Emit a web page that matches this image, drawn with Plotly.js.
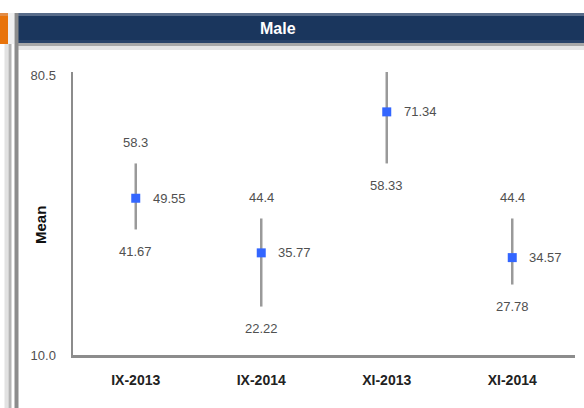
<!DOCTYPE html>
<html>
<head>
<meta charset="utf-8">
<script src="https://cdn.plot.ly/plotly-3.0.1.min.js"></script>
<style>
  html, body { margin: 0; padding: 0; background: #ffffff; }
  #chart { width: 584px; height: 408px; }
</style>
</head>
<body>
<div id="chart"></div>
<script>
// ---- data ----
const categories = ["IX-2013", "IX-2014", "XI-2013", "XI-2014"];
const means = [49.55, 35.77, 71.34, 34.57];
const upperBounds = [58.33, 44.44, 83.33, 44.44];
const lowerBounds = [41.67, 22.22, 58.33, 27.78];
const yTickValues = [10.0, 80.5];
const yRange = [10.0, 81.4];
const panelTitle = "Male";
const yTitle = "Mean";

// ---- layout geometry (pixels) ----
const W = 584, H = 408;
const M = { l: 73, r: 9, t: 72, b: 53 };
const PW = W - M.l - M.r, PH = H - M.t - M.b;
const px = v => (v - M.l) / PW;           // pixel x -> paper x
const py = v => (H - M.b - v) / PH;       // pixel y -> paper y

function rect(x0, y0, x1, y1, color) {
  return { type: "rect", xref: "paper", yref: "paper", layer: "above",
    x0: px(x0), x1: px(x1), y0: py(y1), y1: py(y0),
    fillcolor: color, line: { width: 0 } };
}

const shapes = [
  // header band
  rect(18, 13, 584, 43, "rgb(26,54,93)"),
  rect(18, 13, 584, 16, "rgb(88,108,138)"),
  rect(18, 40, 584, 43, "rgb(40,66,104)"),
  rect(18, 43, 584, 46, "rgb(168,168,168)"),
  rect(18, 46, 584, 50, "rgb(230,230,230)"),
  // orange tab
  rect(0, 13, 8, 44, "rgb(232,115,10)"),
  rect(0, 13, 8, 16, "rgb(226,140,70)"),
  // left frame strips
  rect(8, 13, 14, 44, "rgb(240,240,240)"),
  rect(4.5, 44, 8.5, 408, "rgb(226,226,226)"),
  rect(8.5, 44, 11.5, 408, "rgb(180,180,180)"),
  rect(14.5, 13, 18.5, 408, "rgb(140,140,140)")
];

const valueFont = { family: "Liberation Sans, Arial, sans-serif", size: 13, color: "#505050" };
const annotations = [];

// panel title and y-axis title
annotations.push({ xref: "paper", yref: "paper", x: px(278), y: py(28),
  text: panelTitle, showarrow: false, xanchor: "center", yanchor: "middle",
  font: { family: "Liberation Sans, Arial, sans-serif", size: 16, color: "#ffffff", weight: "bold" } });
annotations.push({ xref: "paper", yref: "paper", x: px(40), y: py(225),
  text: yTitle, showarrow: false, textangle: -90, xanchor: "center", yanchor: "middle",
  font: { family: "Liberation Sans, Arial, sans-serif", size: 15, color: "#111111", weight: "bold" } });

categories.forEach((c, i) => {
  // mean label to the right of the marker
  annotations.push({ xref: "x", yref: "y", x: c, y: means[i], text: means[i].toFixed(2),
    showarrow: false, xanchor: "left", yanchor: "middle", xshift: 15, font: valueFont });
  // upper bound label (only if inside the axis range)
  if (upperBounds[i] <= yRange[1]) {
    annotations.push({ xref: "x", yref: "y", x: c, y: upperBounds[i], text: upperBounds[i].toFixed(1),
      showarrow: false, xanchor: "center", yanchor: "middle", yshift: 21, font: valueFont });
  }
  // lower bound label
  if (lowerBounds[i] >= yRange[0]) {
    annotations.push({ xref: "x", yref: "y", x: c, y: lowerBounds[i], text: lowerBounds[i].toFixed(2),
      showarrow: false, xanchor: "center", yanchor: "middle", yshift: -22, font: valueFont });
  }
});

const trace = {
  type: "scatter",
  mode: "markers",
  x: categories,
  y: means,
  cliponaxis: true,
  marker: { symbol: "square", size: 9, color: "rgb(51,102,255)" },
  error_y: {
    type: "data", symmetric: false,
    array: upperBounds.map((u, i) => u - means[i]),
    arrayminus: lowerBounds.map((l, i) => means[i] - l),
    width: 0, thickness: 2.5, color: "#9a9a9a"
  },
  hoverinfo: "skip"
};

const layout = {
  width: W, height: H,
  margin: M,
  paper_bgcolor: "#ffffff",
  plot_bgcolor: "#ffffff",
  showlegend: false,
  xaxis: {
    type: "category", range: [-0.5, 3.5],
    showline: true, linecolor: "#8c8c8c", linewidth: 3,
    showgrid: false, zeroline: false, ticks: "",
    ticklabelstandoff: 10,
    tickfont: { family: "Liberation Sans, Arial, sans-serif", size: 14, color: "#222222", weight: "bold" },
    fixedrange: true
  },
  yaxis: {
    range: yRange,
    showline: true, linecolor: "#8c8c8c", linewidth: 2.5,
    showgrid: false, zeroline: false, ticks: "",
    tickvals: yTickValues,
    ticktext: yTickValues.map(v => v.toFixed(1)),
    ticklabelstandoff: 12,
    tickfont: { family: "Liberation Sans, Arial, sans-serif", size: 13, color: "#505050" },
    fixedrange: true
  },
  shapes: shapes,
  annotations: annotations
};

Plotly.newPlot("chart", [trace], layout, { displayModeBar: false, staticPlot: true });
</script>
</body>
</html>
